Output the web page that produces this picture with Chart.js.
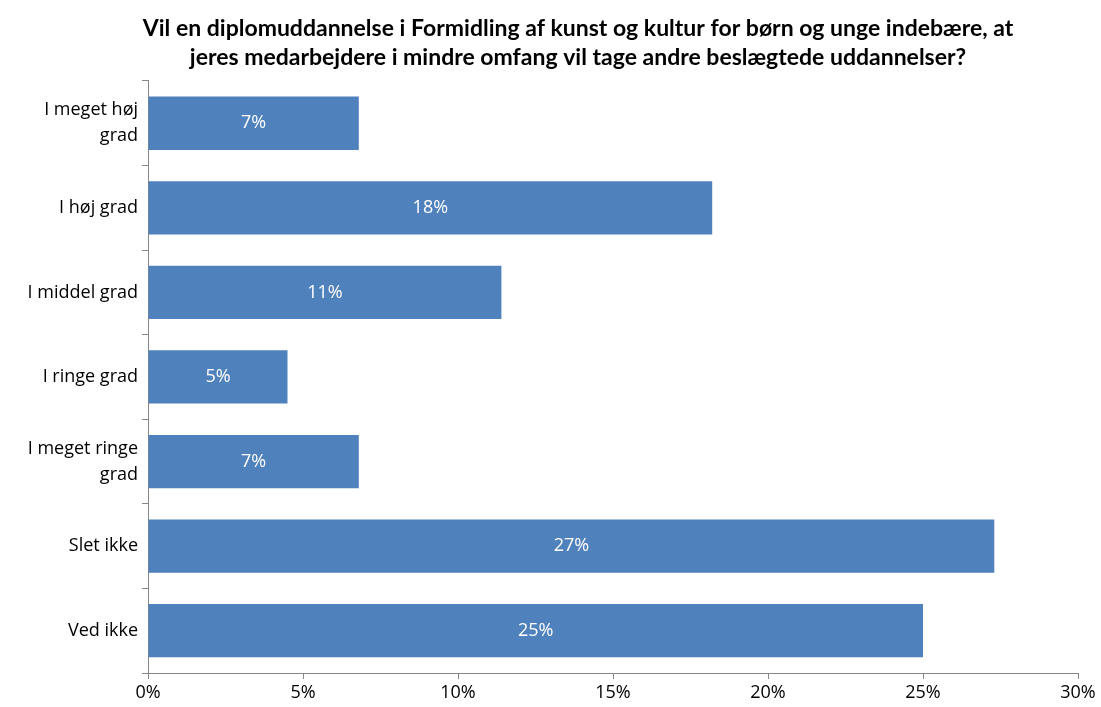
<!DOCTYPE html>
<html>
<head>
<meta charset="utf-8">
<script src="https://cdn.jsdelivr.net/npm/chart.js@4"></script>
<style>
  html, body { margin: 0; padding: 0; background: #fff; }
  #wrap { width: 1101px; height: 707px; }
</style>
</head>
<body>
<div id="wrap"><canvas id="chart"></canvas></div>
<script>
const categories = [
    ["I meget høj", "grad"],
    "I høj grad",
    "I middel grad",
    "I ringe grad",
    ["I meget ringe", "grad"],
    "Slet ikke",
    "Ved ikke"
];
const shares = [6.8, 18.2, 11.4, 4.5, 6.8, 27.3, 25.0];
const titleLines = [
    "Vil en diplomuddannelse i Formidling af kunst og kultur for børn og unge indebære, at",
    "jeres medarbejdere i mindre omfang vil tage andre beslægtede uddannelser?"
];

const tickFont = "'Open Sans', sans-serif";
const titleFont = "Lato, 'Open Sans', sans-serif";

// white value labels in the middle of each bar
const barLabels = {
    id: 'barLabels',
    afterDatasetsDraw(chart) {
        const ctx = chart.ctx;
        const meta = chart.getDatasetMeta(0);
        ctx.save();
        ctx.fillStyle = '#ffffff';
        ctx.font = '18px ' + tickFont;
        ctx.textAlign = 'center';
        ctx.textBaseline = 'middle';
        meta.data.forEach((bar, i) => {
            const x = (bar.x + bar.base) / 2;
            ctx.fillText(Math.round(shares[i]) + '%', x, bar.y);
        });
        ctx.restore();
    }
};

// centre the title a bit right of the canvas middle, like the original
const shiftTitle = {
    id: 'shiftTitle',
    afterLayout(chart) {
        if (chart.titleBlock) {
            chart.titleBlock.left += 78;
        }
    }
};

const el = document.getElementById("chart");

new Chart(el, {
    type: 'bar',
    data: {
        labels: categories,
        datasets: [{
            data: shares,
            backgroundColor: '#4f81bd',
            borderWidth: 0,
            barPercentage: 0.63,
            categoryPercentage: 1
        }]
    },
    options: {
        indexAxis: 'y',
        responsive: true,
        maintainAspectRatio: false,
        animation: false,
        layout: {
            padding: { left: 0, right: 23, top: 0, bottom: 0 }
        },
        plugins: {
            legend: { display: false },
            tooltip: { enabled: false },
            title: {
                display: true,
                text: titleLines,
                color: '#000000',
                font: { family: titleFont, size: 23, weight: 'bold', lineHeight: 1.26 },
                padding: { top: 14, bottom: 9 }
            }
        },
        scales: {
            x: {
                min: 0,
                max: 30,
                ticks: {
                    stepSize: 5,
                    color: '#000000',
                    font: { family: tickFont, size: 18, lineHeight: 1.0 },
                    padding: 5,
                    callback: v => v + '%'
                },
                grid: {
                    drawOnChartArea: false,
                    drawTicks: true,
                    tickLength: 6,
                    color: '#868686'
                },
                border: { color: '#868686' }
            },
            y: {
                afterFit(scale) { scale.width = 148; },
                ticks: {
                    color: '#000000',
                    font: { family: tickFont, size: 18, lineHeight: 1.45 },
                    padding: 4
                },
                grid: {
                    offset: true,
                    drawOnChartArea: false,
                    drawTicks: true,
                    tickLength: 6,
                    color: '#868686'
                },
                border: { color: '#868686' }
            }
        }
    },
    plugins: [barLabels, shiftTitle]
});
</script>
</body>
</html>
